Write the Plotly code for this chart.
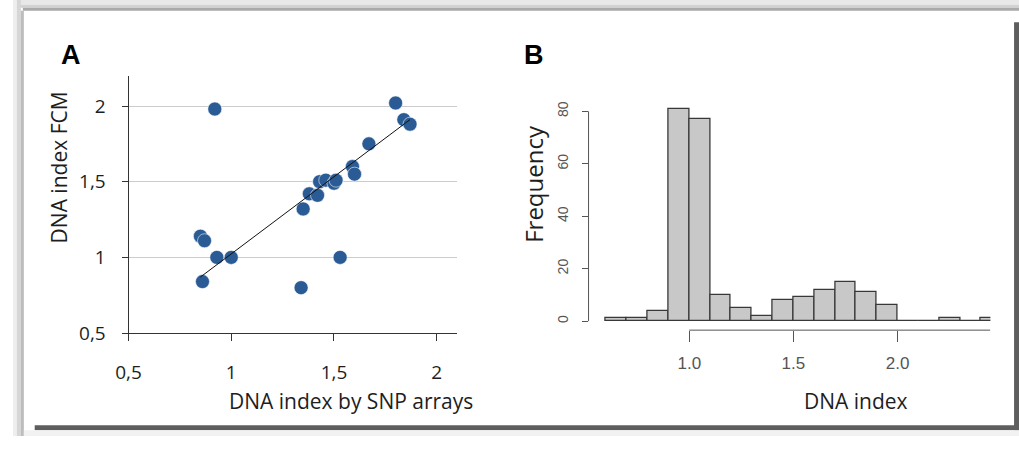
import plotly.graph_objects as go

# ---------------- data ----------------
# Panel A: DNA index by SNP arrays vs DNA index FCM
snp_x = [0.92, 1.80, 1.84, 1.87, 1.67, 1.59, 1.60, 1.43, 1.46, 1.50, 1.51,
         1.38, 1.42, 1.35, 0.85, 0.87, 0.93, 1.00, 0.86, 1.34, 1.53]
fcm_y = [1.98, 2.02, 1.91, 1.88, 1.75, 1.60, 1.55, 1.50, 1.51, 1.49, 1.51,
         1.42, 1.41, 1.32, 1.14, 1.11, 1.00, 1.00, 0.84, 0.80, 1.00]
fit_x = [0.85, 1.87]
fit_y = [0.87, 1.91]
a_ticks = [0.5, 1.0, 1.5, 2.0]
a_ticklabels = ["0,5", "1", "1,5", "2"]

# Panel B: histogram of DNA index (bins of width 0.1 starting at 0.6)
bin_left = [0.6, 0.7, 0.8, 0.9, 1.0, 1.1, 1.2, 1.3, 1.4, 1.5, 1.6, 1.7, 1.8,
            1.9, 2.0, 2.1, 2.2, 2.3, 2.4]
freq = [1, 1, 4, 81, 77, 10, 5, 2, 8, 9, 12, 15, 11, 6, 0, 0, 1, 0, 1]
bin_width = 0.1
b_xticks = [1.0, 1.5, 2.0]
b_xticklabels = ["1.0", "1.5", "2.0"]
b_yticks = [0, 20, 40, 60, 80]

# ---------------- layout helpers ----------------
W, H = 1019, 449
def px(x):
    return x / W
def py(y):
    return 1 - y / H

TXT = "#1e1e1e"
FONT = "Open Sans, Liberation Sans, sans-serif"
NARROW = "Liberation Sans Narrow, Liberation Sans, Arial, sans-serif"

fig = go.Figure()

# Panel A scatter
fig.add_trace(go.Scatter(
    x=snp_x, y=fcm_y, mode="markers", xaxis="x", yaxis="y",
    marker=dict(size=14, color="#2a5b94",
                line=dict(color="rgba(255,255,255,0.55)", width=1)),
    showlegend=False, hoverinfo="x+y"))
fig.add_trace(go.Scatter(
    x=fit_x, y=fit_y, mode="lines", xaxis="x", yaxis="y",
    line=dict(color="#111111", width=1), showlegend=False))

# Panel B histogram
bin_center = [b + bin_width / 2 for b in bin_left]
fig.add_trace(go.Bar(
    x=bin_center, y=freq, width=[bin_width] * len(freq), xaxis="x2", yaxis="y2",
    marker=dict(color="#c8c8c8", line=dict(color="#383838", width=1.3)),
    showlegend=False))

b_xrange = [0.5166, 2.4455]
b_yrange = [-3.44, 85.44]

fig.update_layout(
    width=W, height=H, autosize=False,
    margin=dict(l=0, r=0, t=0, b=0),
    paper_bgcolor="white", plot_bgcolor="white",
    bargap=0,
    xaxis=dict(domain=[px(117), px(450)], range=[0.5, 2.1],
               tickvals=a_ticks, ticktext=a_ticklabels,
               showline=True, linecolor="#333333", linewidth=1,
               ticks="outside", ticklen=7, tickcolor="#333333",
               showgrid=False, zeroline=False,
               tickfont=dict(family=FONT, size=19, color=TXT),
               ticklabelstandoff=15, anchor="y"),
    yaxis=dict(domain=[py(343), py(78)], range=[0.5, 2.2],
               tickvals=a_ticks, ticktext=a_ticklabels,
               showline=True, linecolor="#333333", linewidth=1,
               ticks="outside", ticklen=6, tickcolor="#333333",
               showgrid=True, gridcolor="#cccccc", gridwidth=1,
               zeroline=False,
               tickfont=dict(family=FONT, size=19, color=TXT),
               ticklabelstandoff=12, anchor="x"),
    xaxis2=dict(domain=[px(583), px(990)], range=b_xrange,
                tickvals=b_xticks, ticktext=b_xticklabels,
                showline=False, ticks="outside", ticklen=11,
                tickcolor="#555555", showgrid=False, zeroline=False,
                tickfont=dict(family=NARROW, size=17, color="#555555"),
                ticklabelstandoff=6, anchor="y2"),
    yaxis2=dict(domain=[py(340), py(100)], range=b_yrange,
                tickvals=b_yticks, showline=False, ticks="outside",
                ticklen=6, tickcolor="#555555", showgrid=False,
                zeroline=False, tickangle=-90,
                tickfont=dict(family=NARROW, size=14, color="#555555"),
                ticklabelstandoff=8, anchor="x2"),
)

shapes = [
    # histogram axis lines (R style)
    dict(type="line", xref="x2 domain", yref="y2", x0=0, x1=0,
         y0=b_yticks[0], y1=b_yticks[-1], line=dict(color="#555555", width=1)),
    dict(type="line", xref="x2", yref="y2 domain", x0=b_xticks[0],
         x1=b_xrange[1], y0=0, y1=0, line=dict(color="#555555", width=1)),
    # frame decoration
    dict(type="rect", xref="paper", yref="paper", x0=0, x1=1, y0=py(0), y1=py(5),
         fillcolor="#e8e8e8", line=dict(width=0), layer="above"),
    dict(type="rect", xref="paper", yref="paper", x0=0, x1=1, y0=py(5), y1=py(8),
         fillcolor="#d2d2d2", line=dict(width=0), layer="above"),
    dict(type="rect", xref="paper", yref="paper", x0=px(10), x1=1, y0=py(8), y1=py(11),
         fillcolor="#a9a9a9", line=dict(width=0), layer="above"),
    dict(type="rect", xref="paper", yref="paper", x0=0, x1=px(4), y0=py(0), y1=0,
         fillcolor="#eeeeee", line=dict(width=0), layer="above"),
    dict(type="rect", xref="paper", yref="paper", x0=px(4), x1=px(8), y0=py(0), y1=0,
         fillcolor="#d6d6d6", line=dict(width=0), layer="above"),
    dict(type="rect", xref="paper", yref="paper", x0=px(8), x1=px(11), y0=py(11), y1=0,
         fillcolor="#bdbdbd", line=dict(width=0), layer="above"),
    dict(type="rect", xref="paper", yref="paper", x0=px(1014), x1=1, y0=py(23), y1=py(443),
         fillcolor="#5e5e5e", line=dict(width=0), layer="above"),
    dict(type="rect", xref="paper", yref="paper", x0=px(22), x1=1, y0=py(438), y1=py(443),
         fillcolor="#5e5e5e", line=dict(width=0), layer="above"),
    dict(type="rect", xref="paper", yref="paper", x0=px(11), x1=1, y0=py(443), y1=0,
         fillcolor="#f2f2f2", line=dict(width=0), layer="above"),
]
fig.update_layout(shapes=shapes)

annotations = [
    dict(text="<b>A</b>", x=px(59), y=py(57), font=dict(family="Liberation Sans, Arial", size=27, color="#000")),
    dict(text="<b>B</b>", x=px(528), y=py(57), font=dict(family="Liberation Sans, Arial", size=27, color="#000")),
    dict(text="DNA index FCM", x=px(47), y=py(172), textangle=-90,
         font=dict(family=FONT, size=21, color=TXT)),
    dict(text="DNA index by SNP arrays", x=px(342), y=py(413),
         font=dict(family=FONT, size=21, color=TXT)),
    dict(text="Frequency", x=px(527), y=py(189), textangle=-90,
         font=dict(family=FONT, size=24, color=TXT)),
    dict(text="DNA index", x=px(854), y=py(413),
         font=dict(family=FONT, size=21, color=TXT)),
]
for a in annotations:
    a.update(xref="paper", yref="paper", showarrow=False, xanchor="center", yanchor="middle")
fig.update_layout(annotations=annotations)

fig.write_html("out.html")
